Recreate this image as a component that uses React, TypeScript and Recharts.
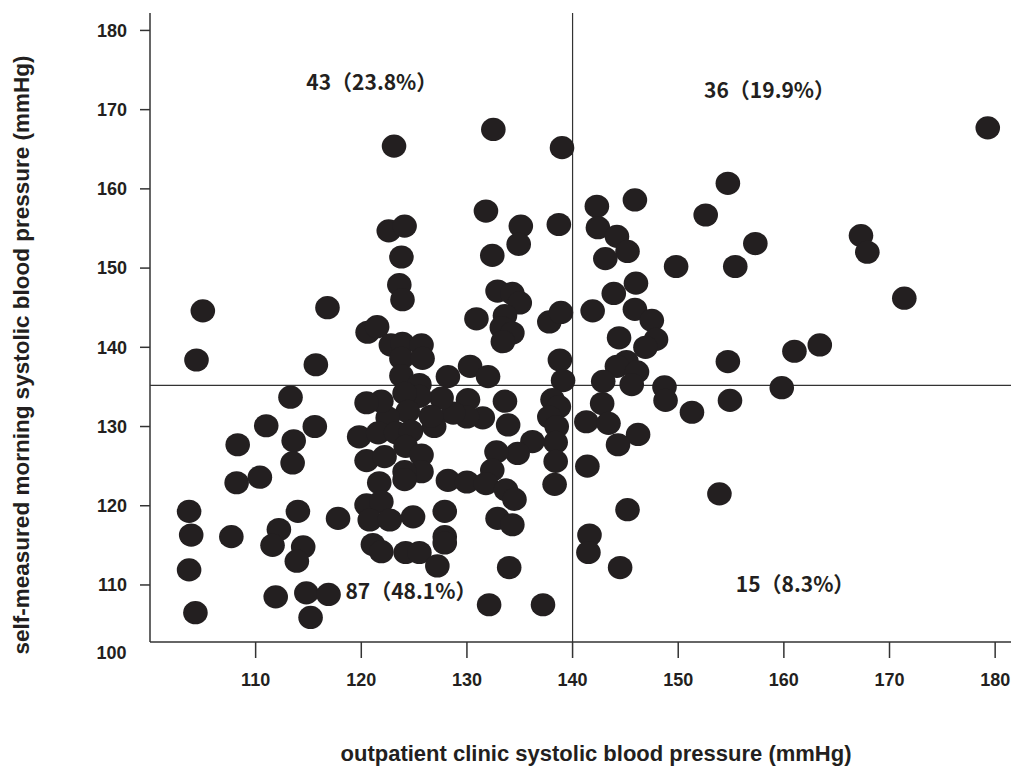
import React from 'react';
import { ScatterChart, Scatter, XAxis, YAxis, ReferenceLine, ReferenceDot } from 'recharts';

// outpatient clinic systolic BP (x) and self-measured morning systolic BP (y), paired by index
const clinicSBP = [
  179.3, 123.1, 132.5, 139.0, 154.7, 145.9, 142.3, 152.6, 131.8, 122.6,
  124.1, 123.8, 135.1, 134.9, 132.4, 138.7, 142.4, 144.2, 145.2, 143.1,
  157.3, 167.3, 167.9, 149.8, 155.4, 171.4, 123.6, 123.9, 132.9, 134.3,
  135.0, 133.6, 133.3, 134.3, 133.4, 130.9, 137.8, 138.9, 141.9, 146.0,
  143.9, 145.9, 147.5, 147.9, 144.4, 146.9, 161.0, 163.4, 105.0, 116.8,
  120.6, 121.5, 122.8, 123.9, 125.7, 123.8, 125.8, 104.4, 115.7, 123.8,
  125.5, 128.2, 130.3, 132.0, 138.8, 139.1, 154.7, 145.1, 144.2, 146.1,
  142.9, 145.6, 148.7, 159.8, 148.8, 154.9, 151.3, 142.8, 141.3, 143.4,
  146.2, 144.3, 141.4, 138.1, 138.7, 137.8, 138.5, 138.4, 138.4, 138.3,
  136.2, 134.8, 132.8, 132.4, 133.6, 133.9, 131.5, 130.1, 130.0, 128.7,
  127.6, 126.9, 126.6, 125.5, 124.1, 124.4, 122.5, 121.9, 120.5, 119.8,
  121.6, 123.3, 124.7, 124.2, 120.5, 122.2, 125.7, 125.7, 124.1, 121.7,
  124.1, 128.2, 130.0, 131.8, 113.3, 111.0, 115.6, 108.3, 113.6, 113.5,
  108.2, 110.4, 103.7, 103.9, 107.7, 103.7, 104.3, 114.0, 112.2, 111.6,
  114.5, 113.9, 117.8, 111.9, 114.8, 116.9, 115.2, 120.5, 121.9, 120.8,
  122.7, 124.9, 127.9, 127.9, 127.9, 121.1, 121.9, 124.2, 125.5, 127.2,
  134.0, 132.1, 137.2, 132.9, 134.3, 133.7, 134.5, 141.6, 141.5, 144.5,
  145.2, 153.9,
];
const morningSBP = [
  167.7, 165.4, 167.5, 165.2, 160.7, 158.6, 157.8, 156.7, 157.2, 154.7,
  155.3, 151.4, 155.3, 153.0, 151.6, 155.5, 155.1, 154.0, 152.1, 151.2,
  153.1, 154.1, 152.0, 150.2, 150.2, 146.2, 147.9, 146.0, 147.1, 146.8,
  145.6, 144.0, 142.5, 141.8, 140.7, 143.6, 143.2, 144.4, 144.6, 148.1,
  146.8, 144.8, 143.4, 141.0, 141.2, 140.0, 139.5, 140.3, 144.6, 145.0,
  141.9, 142.6, 140.3, 140.5, 140.3, 138.6, 138.6, 138.4, 137.8, 136.4,
  135.3, 136.3, 137.6, 136.3, 138.4, 135.8, 138.2, 138.2, 137.6, 136.9,
  135.7, 135.3, 135.0, 134.9, 133.3, 133.3, 131.8, 132.9, 130.6, 130.4,
  129.0, 127.7, 125.0, 133.4, 132.5, 131.2, 130.0, 128.0, 125.6, 122.7,
  128.1, 126.6, 126.8, 124.5, 133.2, 130.2, 131.1, 133.4, 131.2, 131.7,
  133.6, 130.0, 131.3, 133.8, 134.2, 131.9, 131.1, 133.2, 133.0, 128.7,
  129.2, 129.2, 129.4, 127.5, 125.7, 126.2, 126.4, 124.3, 124.3, 122.9,
  123.3, 123.2, 123.0, 122.8, 133.7, 130.1, 130.0, 127.7, 128.2, 125.4,
  122.9, 123.6, 119.3, 116.3, 116.1, 111.9, 106.5, 119.3, 117.0, 115.0,
  114.8, 113.0, 118.4, 108.5, 109.0, 108.8, 105.9, 120.1, 120.5, 118.2,
  118.2, 118.6, 119.3, 116.1, 115.3, 115.1, 114.2, 114.1, 114.1, 112.4,
  112.2, 107.5, 107.5, 118.4, 117.6, 122.0, 120.8, 116.3, 114.1, 112.2,
  119.5, 121.5,
];

const xTicks = [110, 120, 130, 140, 150, 160, 170, 180];
const yTicks = [110, 120, 130, 140, 150, 160, 170, 180];
const clinicCutoff = 140;
const homeCutoff = 135.2;

const quadrantLabels = ['43（23.8%）', '36（19.9%）', '87（48.1%）', '15（8.3%）'];
const quadrantX = [121.0, 158.65, 124.7, 161.06];
const quadrantY = [173.6, 172.6, 109.4, 110.3];

const points = clinicSBP.map((x, i) => ({ x, y: morningSBP[i] }));

const INK = '#231f20';
const AXIS = '#333333';
const FONT = '"Liberation Sans", Arial, Helvetica, sans-serif';

const Dot = (p: any) => (
  <ellipse cx={p.cx} cy={p.cy} rx={12.3} ry={11.6} fill={INK} />
);

export default function App() {
  return (
    <div style={{ position: 'absolute', left: 0, top: 0, width: 1028, height: 767, overflow: 'hidden', background: '#fff' }}>
      <ScatterChart width={1028} height={767} margin={{ top: 13, right: 17, bottom: 0, left: 0 }}>
        <XAxis
          type="number"
          dataKey="x"
          domain={[100, 181.5]}
          ticks={xTicks}
          allowDataOverflow
          height={125}
          tickSize={16}
          tickMargin={15}
          axisLine={{ stroke: AXIS, strokeWidth: 1.5 }}
          tickLine={{ stroke: AXIS, strokeWidth: 1.5 }}
          tick={{ fill: INK, fontSize: 18, fontWeight: 700, fontFamily: FONT }}
        />
        <YAxis
          type="number"
          dataKey="y"
          domain={[102.8, 182.2]}
          ticks={yTicks}
          allowDataOverflow
          width={150}
          tickSize={10}
          tickMargin={13}
          axisLine={{ stroke: AXIS, strokeWidth: 1.5 }}
          tickLine={{ stroke: AXIS, strokeWidth: 1.5 }}
          tick={{ fill: INK, fontSize: 18, fontWeight: 700, fontFamily: FONT }}
        />
        <ReferenceLine y={homeCutoff} stroke={AXIS} strokeWidth={1.2} />
        <ReferenceLine x={clinicCutoff} stroke={AXIS} strokeWidth={1.2} />
        <Scatter data={points} shape={Dot} isAnimationActive={false} />
        {quadrantLabels.map((lab, i) => (
          <ReferenceDot
            key={lab}
            x={quadrantX[i]}
            y={quadrantY[i]}
            r={0}
            shape={(p: any) => (
              <text
                x={p.cx}
                y={p.cy}
                textAnchor="middle"
                dominantBaseline="central"
                fill={INK}
                fontSize={21}
                fontWeight={700}
                fontFamily='"Noto Sans CJK JP", "Noto Sans", sans-serif'
              >
                {lab}
              </text>
            )}
          />
        ))}
        <text x={126.5} y={653} textAnchor="end" dominantBaseline="central" fill={INK} fontSize={18} fontWeight={700} fontFamily={FONT}>
          100
        </text>
        <text x={596} y={761} textAnchor="middle" fill={INK} fontSize={22} fontWeight={700} fontFamily={FONT}>
          outpatient clinic systolic blood pressure (mmHg)
        </text>
        <text
          x={21}
          y={355}
          transform="rotate(-90 21 355)"
          textAnchor="middle"
          dominantBaseline="central"
          fill={INK}
          fontSize={22.5}
          fontWeight={700}
          fontFamily={FONT}
        >
          self-measured morning systolic blood pressure (mmHg)
        </text>
      </ScatterChart>
    </div>
  );
}
